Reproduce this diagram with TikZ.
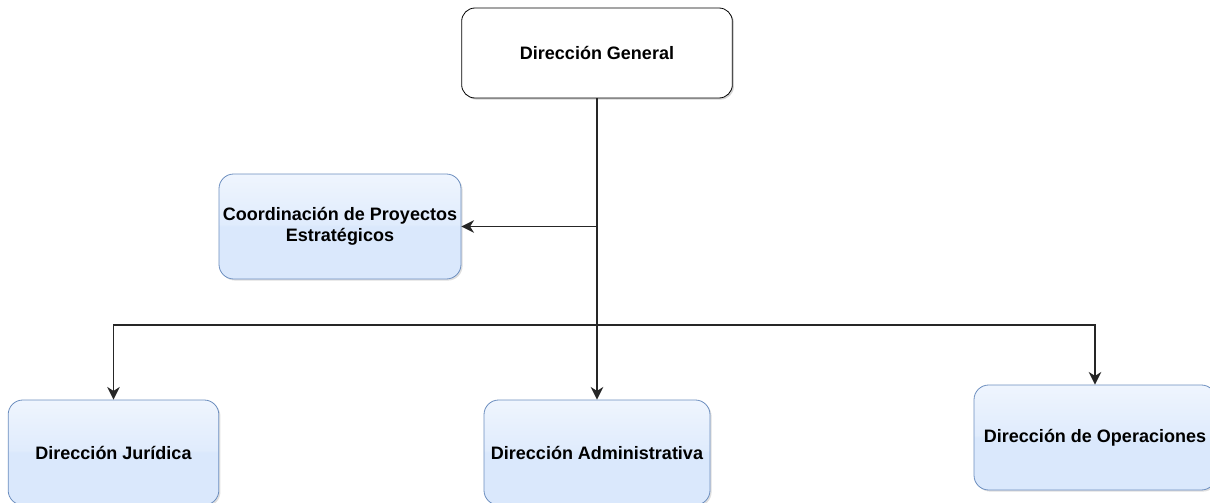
\documentclass[tikz,border=0pt]{standalone}
\usepackage{fontspec}
\setmainfont{Liberation Sans}
\usetikzlibrary{arrows.meta,shadows}

\definecolor{boxblue}{HTML}{DAE8FC}
\definecolor{boxline}{HTML}{6C8EBF}
\pgfdeclareverticalshading{glass}{100bp}{%
  color(0bp)=(boxblue); color(50bp)=(boxblue);
  color(51bp)=(boxblue!85!white); color(100bp)=(white)}

\tikzset{
  topbox/.style={draw=black, fill=white, rounded corners=10pt, line width=0.6pt,
    minimum width=203pt, minimum height=67.5pt,
    drop shadow={shadow xshift=1.2pt, shadow yshift=-1.2pt, opacity=0.35}},
  unitbox/.style={draw=boxline, shading=glass, rounded corners=11pt, line width=0.6pt,
    minimum height=78.75pt, align=center, inner sep=1pt,
    drop shadow={shadow xshift=1.2pt, shadow yshift=-1.2pt, opacity=0.25}},
  conn/.style={line width=1.1pt, draw=black!85,
    -{Stealth[length=9.5pt,width=9.5pt,inset=3pt]}},
}

\begin{document}
\begin{tikzpicture}[x=0.75pt,y=-0.75pt,
    font=\bfseries\fontsize{13.5}{16}\selectfont]
  \useasboundingbox (0,0) rectangle (1210,503);

  % boxes
  \node[topbox] (gen) at (597,53) {Dirección General};
  \node[unitbox, minimum width=181.5pt] (coord) at (340,226.5)
    {Coordinación de Proyectos\\Estratégicos};
  \node[unitbox, minimum width=158pt] (jur) at (113.5,452.5) {Dirección Jurídica};
  \node[unitbox, minimum width=169.5pt] (adm) at (597,452.5) {Dirección Administrativa};
  \node[unitbox, minimum width=181.5pt] (ops) at (1095,437.5) {Dirección de Operaciones};

  % connectors
  \coordinate (split) at (gen.south |- coord.east);
  \coordinate (bus) at (597,325);
  \draw[conn] (gen.south) -- (adm.north);
  \draw[conn] (split) -- (coord.east);
  \draw[line width=1.1pt, draw=black!85] (jur.north |- bus) -- (ops.north |- bus);
  \draw[conn] (bus) -| (jur.north);
  \draw[conn] (bus) -| (ops.north);
\end{tikzpicture}
\end{document}
